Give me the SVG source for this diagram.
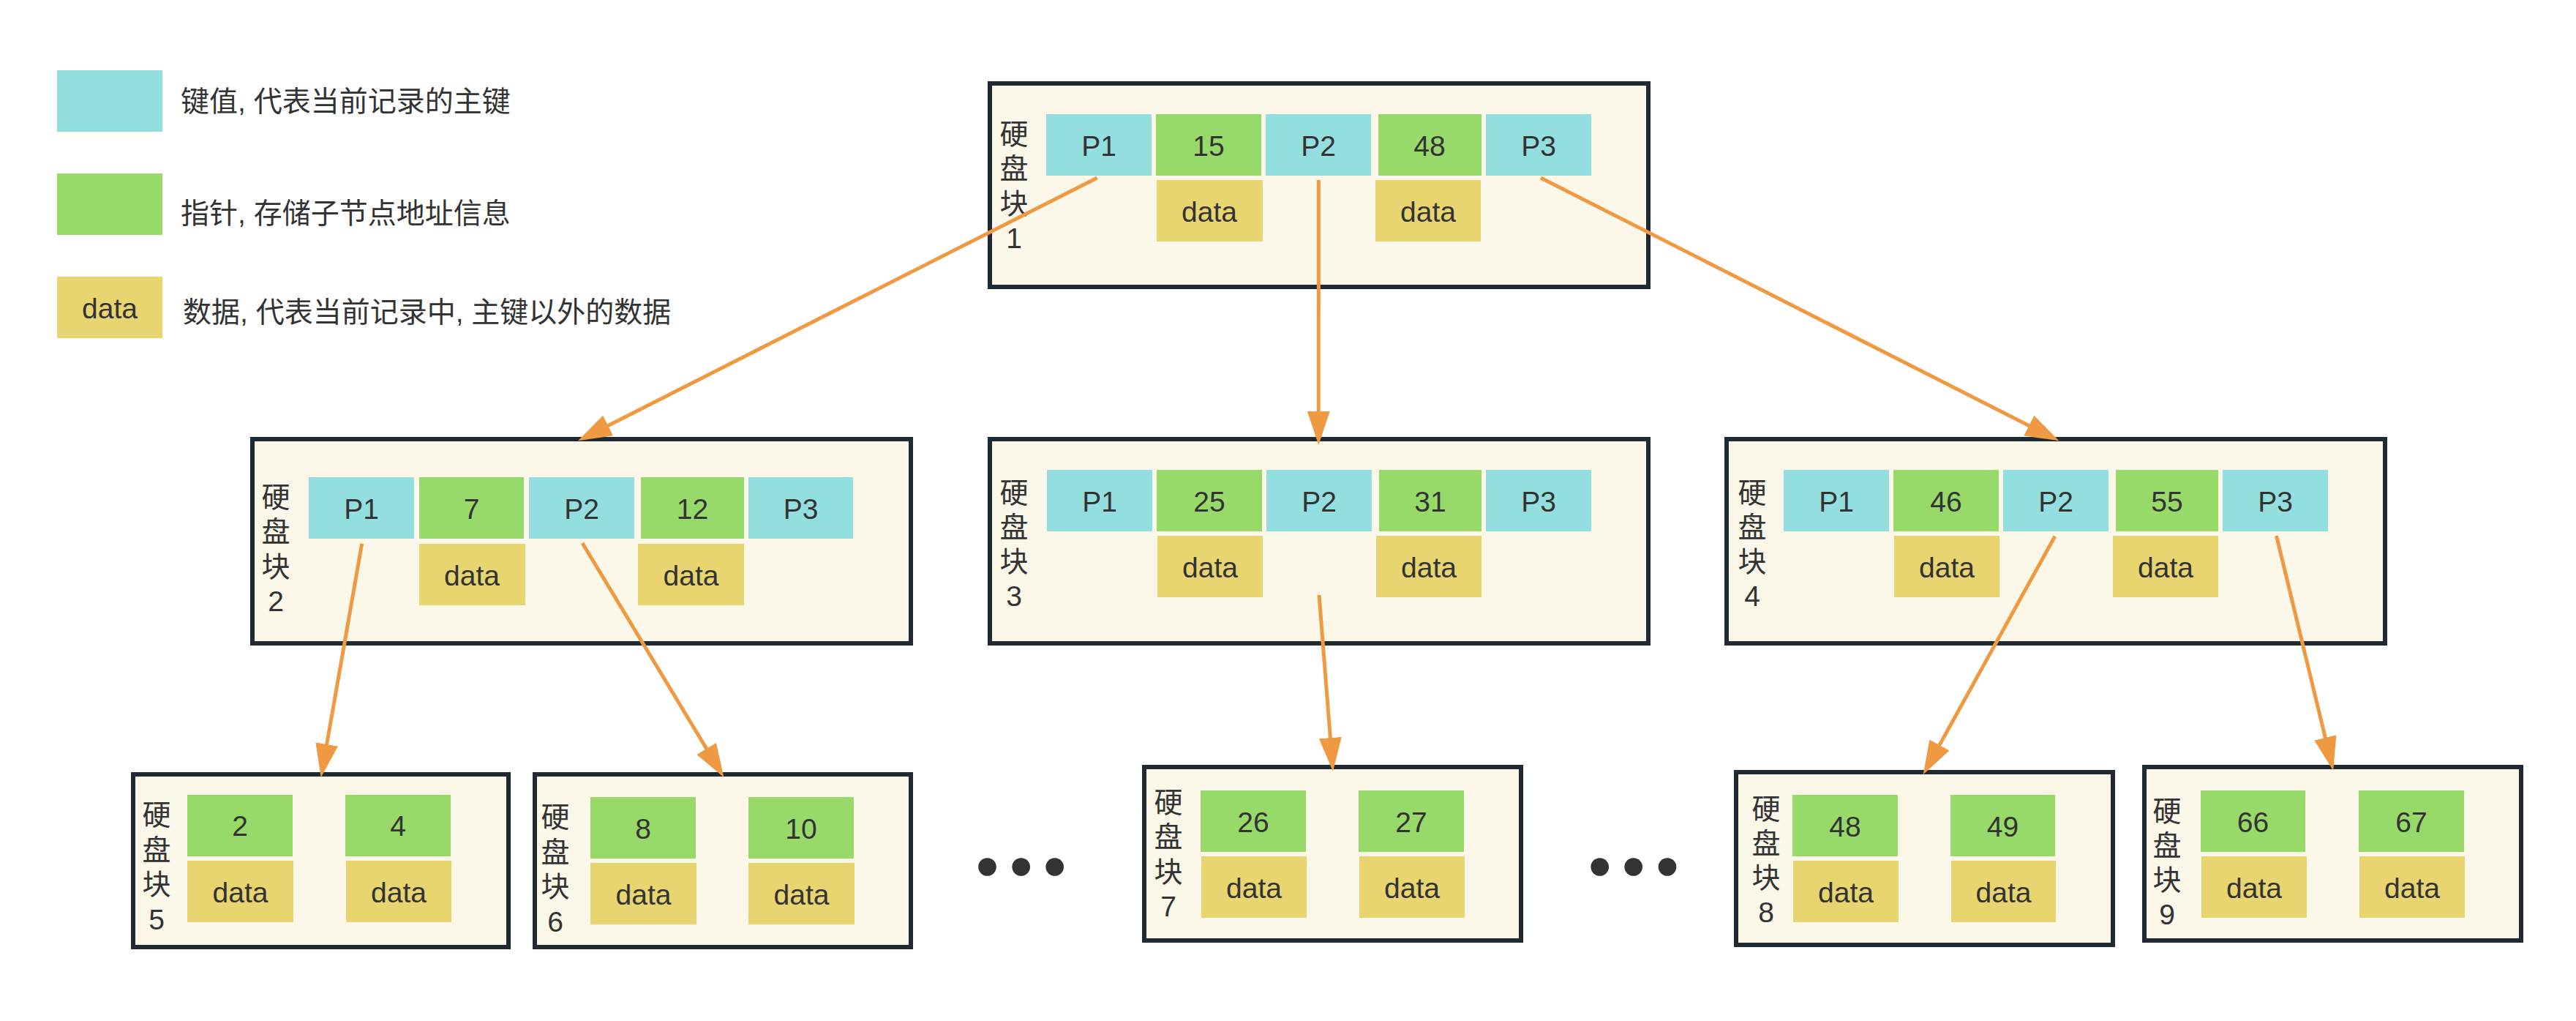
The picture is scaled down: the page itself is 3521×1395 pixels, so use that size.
<svg xmlns="http://www.w3.org/2000/svg" width="3521" height="1395" viewBox="0 0 3521 1395">
<style>
.box{fill:#fbf7e9;stroke:#1f2a32;stroke-width:6}
.k{fill:#93dfe0}
.p{fill:#97da6a}
.d{fill:#e8d56f}
.t{font-family:"Liberation Sans","Noto Sans CJK SC",sans-serif;font-size:39px;fill:#333;text-anchor:middle}
.lg{font-family:"Liberation Sans","Noto Sans CJK SC",sans-serif;font-size:39px;fill:#333}
.lab{font-family:"Liberation Sans","Noto Sans CJK SC",sans-serif;font-size:39px;fill:#333;text-anchor:middle}
.c{fill:none;stroke:#ef9a42;stroke-width:5;marker-end:url(#ah)}
.dot{fill:#333}
</style>
<defs>
<marker id="ah" markerUnits="userSpaceOnUse" viewBox="0 0 46 31" markerWidth="46" markerHeight="31" refX="2" refY="15.5" orient="auto">
<path d="M0,0 L46,15.5 L0,31 Z" fill="#ef9a42"/>
</marker>
</defs>
<rect width="3521" height="1395" fill="#ffffff"/>

<g id="legend">
<rect class="k" x="78" y="96" width="144" height="84"/>
<text class="lg" x="247" y="152">键值, 代表当前记录的主键</text>
<rect class="p" x="78" y="237" width="144" height="84"/>
<text class="lg" x="247" y="305">指针, 存储子节点地址信息</text>
<rect class="d" x="78" y="378" width="144" height="84"/>
<text class="t" x="150" y="435">data</text>
<text class="lg" x="250" y="440">数据, 代表当前记录中, 主键以外的数据</text>
</g>

<g id="node1">
<rect class="box" x="1353" y="114" width="900" height="278"/>
<text class="lab"><tspan x="1386" y="197">硬</tspan><tspan x="1386" y="244">盘</tspan><tspan x="1386" y="292">块</tspan><tspan x="1386" y="339">1</tspan></text>
<rect class="k" x="1430" y="156" width="144" height="84"/><text class="t" x="1502" y="212.5">P1</text>
<rect class="p" x="1580" y="156" width="144" height="84"/><text class="t" x="1652" y="212.5">15</text>
<rect class="k" x="1730" y="156" width="144" height="84"/><text class="t" x="1802" y="212.5">P2</text>
<rect class="p" x="1884" y="156" width="141" height="84"/><text class="t" x="1954" y="212.5">48</text>
<rect class="k" x="2031" y="156" width="144" height="84"/><text class="t" x="2103" y="212.5">P3</text>
<rect class="d" x="1581" y="246" width="145" height="84"/><text class="t" x="1653" y="303">data</text>
<rect class="d" x="1880" y="246" width="144" height="84"/><text class="t" x="1952" y="303">data</text>
</g>

<g id="node2">
<rect class="box" x="345" y="600" width="900" height="279"/>
<text class="lab"><tspan x="377" y="693">硬</tspan><tspan x="377" y="740">盘</tspan><tspan x="377" y="788">块</tspan><tspan x="377" y="835">2</tspan></text>
<rect class="k" x="422" y="652" width="144" height="84"/><text class="t" x="494" y="708.5">P1</text>
<rect class="p" x="573" y="652" width="143" height="84"/><text class="t" x="644.5" y="708.5">7</text>
<rect class="k" x="723" y="652" width="144" height="84"/><text class="t" x="795" y="708.5">P2</text>
<rect class="p" x="876" y="652" width="141" height="84"/><text class="t" x="946.5" y="708.5">12</text>
<rect class="k" x="1023" y="652" width="143" height="84"/><text class="t" x="1094.5" y="708.5">P3</text>
<rect class="d" x="573" y="743" width="145" height="84"/><text class="t" x="645" y="800">data</text>
<rect class="d" x="872" y="743" width="145" height="84"/><text class="t" x="944.5" y="800">data</text>
</g>

<g id="node3">
<rect class="box" x="1353" y="600" width="900" height="279"/>
<text class="lab"><tspan x="1386" y="687">硬</tspan><tspan x="1386" y="734">盘</tspan><tspan x="1386" y="781">块</tspan><tspan x="1386" y="828">3</tspan></text>
<rect class="k" x="1431" y="642" width="144" height="84"/><text class="t" x="1503" y="698.5">P1</text>
<rect class="p" x="1581" y="642" width="144" height="84"/><text class="t" x="1653" y="698.5">25</text>
<rect class="k" x="1731" y="642" width="144" height="84"/><text class="t" x="1803" y="698.5">P2</text>
<rect class="p" x="1885" y="642" width="140" height="84"/><text class="t" x="1955" y="698.5">31</text>
<rect class="k" x="2031" y="642" width="144" height="84"/><text class="t" x="2103" y="698.5">P3</text>
<rect class="d" x="1582" y="732" width="144" height="84"/><text class="t" x="1654" y="789">data</text>
<rect class="d" x="1881" y="732" width="144" height="84"/><text class="t" x="1953" y="789">data</text>
</g>

<g id="node4">
<rect class="box" x="2360" y="600" width="900" height="279"/>
<text class="lab"><tspan x="2395" y="687">硬</tspan><tspan x="2395" y="734">盘</tspan><tspan x="2395" y="781">块</tspan><tspan x="2395" y="828">4</tspan></text>
<rect class="k" x="2438" y="642" width="144" height="84"/><text class="t" x="2510" y="698.5">P1</text>
<rect class="p" x="2588" y="642" width="144" height="84"/><text class="t" x="2660" y="698.5">46</text>
<rect class="k" x="2738" y="642" width="144" height="84"/><text class="t" x="2810" y="698.5">P2</text>
<rect class="p" x="2892" y="642" width="140" height="84"/><text class="t" x="2962" y="698.5">55</text>
<rect class="k" x="3038" y="642" width="144" height="84"/><text class="t" x="3110" y="698.5">P3</text>
<rect class="d" x="2589" y="732" width="144" height="84"/><text class="t" x="2661" y="789">data</text>
<rect class="d" x="2888" y="732" width="144" height="84"/><text class="t" x="2960" y="789">data</text>
</g>

<g id="node5">
<rect class="box" x="182" y="1058" width="513" height="236"/>
<text class="lab"><tspan x="214" y="1127">硬</tspan><tspan x="214" y="1175">盘</tspan><tspan x="214" y="1222">块</tspan><tspan x="214" y="1270">5</tspan></text>
<rect class="p" x="256" y="1086" width="144" height="84"/><text class="t" x="328" y="1142">2</text>
<rect class="p" x="472" y="1086" width="144" height="84"/><text class="t" x="544" y="1142">4</text>
<rect class="d" x="256" y="1176" width="145" height="84"/><text class="t" x="328.5" y="1232.5">data</text>
<rect class="d" x="473" y="1176" width="144" height="84"/><text class="t" x="545" y="1232.5">data</text>
</g>

<g id="node6">
<rect class="box" x="731" y="1058" width="514" height="236"/>
<text class="lab"><tspan x="759" y="1130">硬</tspan><tspan x="759" y="1178">盘</tspan><tspan x="759" y="1225">块</tspan><tspan x="759" y="1273">6</tspan></text>
<rect class="p" x="807" y="1089" width="144" height="84"/><text class="t" x="879" y="1145.5">8</text>
<rect class="p" x="1023" y="1089" width="144" height="84"/><text class="t" x="1095" y="1145.5">10</text>
<rect class="d" x="807" y="1179" width="145" height="84"/><text class="t" x="879.5" y="1236">data</text>
<rect class="d" x="1023" y="1179" width="145" height="84"/><text class="t" x="1095.5" y="1236">data</text>
</g>

<g id="node7">
<rect class="box" x="1564" y="1048" width="515" height="237"/>
<text class="lab"><tspan x="1597" y="1110">硬</tspan><tspan x="1597" y="1157">盘</tspan><tspan x="1597" y="1205">块</tspan><tspan x="1597" y="1252">7</tspan></text>
<rect class="p" x="1641" y="1080" width="144" height="84"/><text class="t" x="1713" y="1136.5">26</text>
<rect class="p" x="1857" y="1080" width="144" height="84"/><text class="t" x="1929" y="1136.5">27</text>
<rect class="d" x="1642" y="1170" width="144" height="84"/><text class="t" x="1714" y="1227">data</text>
<rect class="d" x="1858" y="1170" width="144" height="84"/><text class="t" x="1930" y="1227">data</text>
</g>

<g id="node8">
<rect class="box" x="2373" y="1055" width="515" height="236"/>
<text class="lab"><tspan x="2414" y="1119">硬</tspan><tspan x="2414" y="1166">盘</tspan><tspan x="2414" y="1213">块</tspan><tspan x="2414" y="1260">8</tspan></text>
<rect class="p" x="2450" y="1086" width="144" height="84"/><text class="t" x="2522" y="1142.5">48</text>
<rect class="p" x="2666" y="1086" width="143" height="84"/><text class="t" x="2737.5" y="1142.5">49</text>
<rect class="d" x="2451" y="1176" width="144" height="84"/><text class="t" x="2523" y="1233">data</text>
<rect class="d" x="2667" y="1176" width="143" height="84"/><text class="t" x="2738.5" y="1233">data</text>
</g>

<g id="node9">
<rect class="box" x="2931" y="1048" width="515" height="237"/>
<text class="lab"><tspan x="2962" y="1122">硬</tspan><tspan x="2962" y="1169">盘</tspan><tspan x="2962" y="1216">块</tspan><tspan x="2962" y="1263">9</tspan></text>
<rect class="p" x="3008" y="1080" width="143" height="84"/><text class="t" x="3079.5" y="1136.5">66</text>
<rect class="p" x="3224" y="1080" width="144" height="84"/><text class="t" x="3296" y="1136.5">67</text>
<rect class="d" x="3009" y="1170" width="144" height="84"/><text class="t" x="3081" y="1227">data</text>
<rect class="d" x="3225" y="1170" width="144" height="84"/><text class="t" x="3297" y="1227">data</text>
</g>

<g id="ellipsis1">
<circle class="dot" cx="1349.5" cy="1184.5" r="12.3"/>
<circle class="dot" cx="1395.7" cy="1184.5" r="12.3"/>
<circle class="dot" cx="1441.7" cy="1184.5" r="12.3"/>
</g>
<g id="ellipsis2">
<circle class="dot" cx="2186.7" cy="1184.5" r="12.3"/>
<circle class="dot" cx="2232.7" cy="1184.5" r="12.3"/>
<circle class="dot" cx="2279" cy="1184.5" r="12.3"/>
</g>

<g id="connectors">
<line class="c" x1="1499.7" y1="243" x2="829.3" y2="582.4"/>
<line class="c" x1="1802.4" y1="246" x2="1802.3" y2="564"/>
<line class="c" x1="2106" y1="243" x2="2775.1" y2="582.4"/>
<line class="c" x1="494.7" y1="742.7" x2="446.3" y2="1019"/>
<line class="c" x1="796" y1="742" x2="966.7" y2="1024.6"/>
<line class="c" x1="1803" y1="813" x2="1818.5" y2="1010.1"/>
<line class="c" x1="2808.8" y1="732.7" x2="2650" y2="1019.8"/>
<line class="c" x1="3111.5" y1="732" x2="3178.8" y2="1009.9"/>
</g>
</svg>
